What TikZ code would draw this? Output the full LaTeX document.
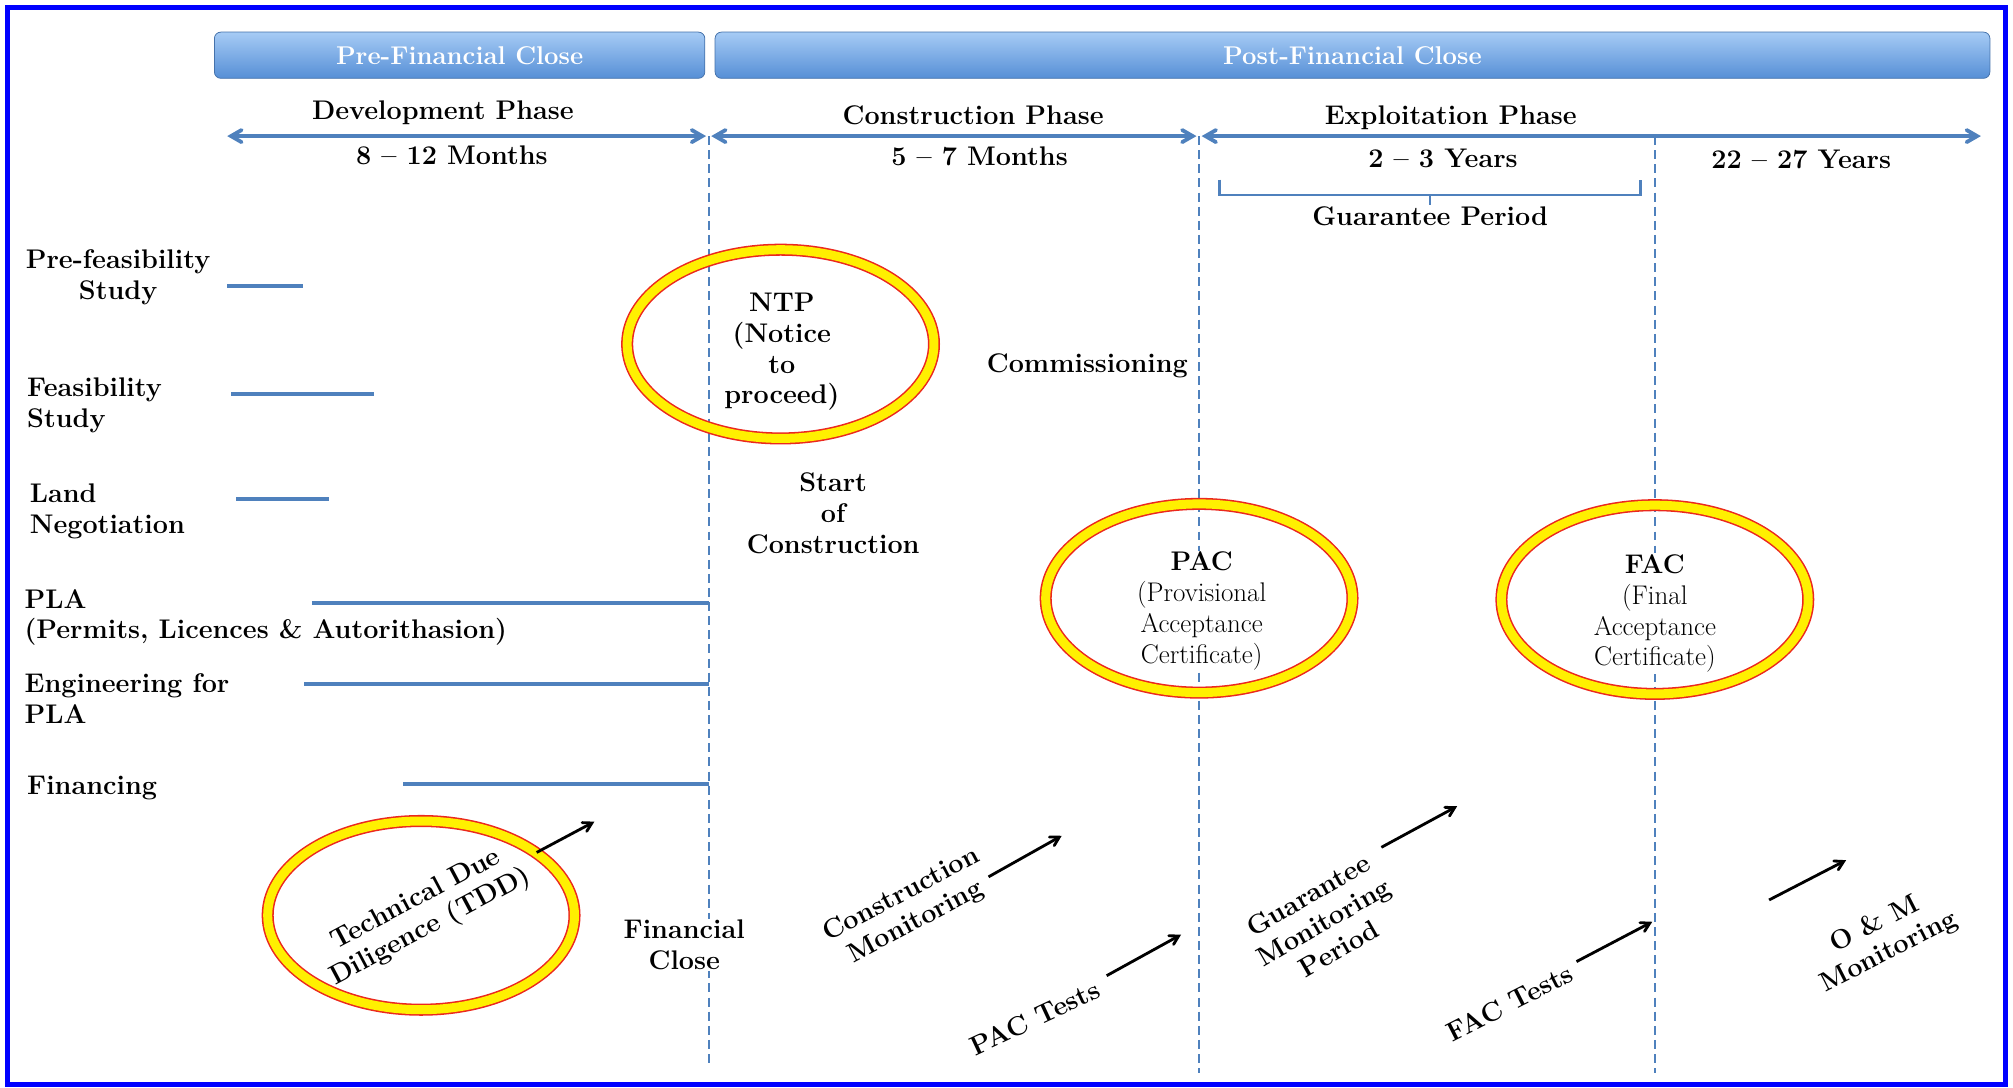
\documentclass[tikz,border=0pt]{standalone}
\usepackage{fontspec}
\usepackage{tikz}
\usetikzlibrary{shapes,arrows,positioning,calc}

\definecolor{steel}{RGB}{79,129,189}
\definecolor{barlight}{RGB}{166,203,245}
\definecolor{bardark}{RGB}{86,143,214}
\definecolor{ringred}{RGB}{235,40,30}
\definecolor{ringyellow}{RGB}{255,240,0}

\newcommand{\bigfont}{\fontsize{21}{24}\selectfont}
\newcommand{\barfont}{\fontsize{20}{24}\selectfont}

\begin{document}
\begin{tikzpicture}[
    x=1pt, y=-1pt,
    every node/.style={font=\bigfont\bfseries, inner sep=1pt},
    header/.style={rectangle, rounded corners=5pt, top color=barlight, bottom color=bardark, draw=bardark!80!black, line width=0.6pt, minimum height=36pt, text=white, font=\barfont\bfseries},
    phase/.style={steel, line width=3pt, angle 60-angle 60, shorten <=2pt, shorten >=2pt},
    divider/.style={steel, line width=1.6pt, dash pattern=on 7pt off 4pt},
    task/.style={steel, line width=3pt},
    ring/.style={ellipse, draw=ringred, double=ringyellow, double distance=7pt, line width=1.2pt, minimum width=239pt, minimum height=147pt, inner sep=0pt},
    ringtext/.style={align=center, fill=white, inner sep=1pt},
    lefttask/.style={anchor=west, align=left},
    note/.style={align=center},
    arrow/.style={-angle 60, line width=2.2pt, black}
]
\useasboundingbox (0,0) rectangle (1568,847);

% Frame
\draw[blue, line width=4pt] (6,6) rectangle (1562,845);

% Headers
\node[header, minimum width=382pt] (prefc) at (358,43) {Pre-Financial Close};
\node[header, minimum width=993pt] (postfc) at (1053.5,43) {Post-Financial Close};

% Phase timeline
\coordinate (t0) at (175,106);
\coordinate (t1) at (552,106);
\coordinate (t2) at (934,106);
\coordinate (t3) at (1289,106);
\coordinate (t4) at (1545,106);
\draw[phase] (t0) -- (t1);
\draw[phase] (t1) -- (t2);
\draw[phase] (t2) -- (t4);

\node (dev) at (345,88) {Development Phase};
\node (devdur) at (352,121) {8 -- 12 Months};
\node (con) at (758,90) {Construction Phase};
\node (condur) at (763,122) {5 -- 7 Months};
\node (exp) at (1130,92) {Exploitation Phase};
\node (expdur) at (1124,123) {2 -- 3 Years};
\node (omdur) at (1403,124) {22 -- 27 Years};

% Guarantee bracket
\draw[steel, line width=2pt] (950,140) -- (950,152) -- (1278,152) -- (1278,140);
\coordinate (gtick) at (1114,152);
\coordinate (gtip) at (1114,160);
\draw[steel, line width=2pt] (gtick) -- (gtip);
\node[below=0pt of gtip] (gp) {Guarantee Period};

% Milestone lines
\coordinate (fcbot) at (552,830);
\coordinate (pacbot) at (934,836);
\coordinate (facbot) at (1289,836);
\draw[divider] (t1) -- (fcbot);
\draw[divider] (t2) -- (pacbot);
\draw[divider] (t3) -- (facbot);

% Development tasks
\node[align=center] (prefeas) at (92,216) {Pre-feasibility\\Study};
\node[lefttask] (feas) at (20,316) {Feasibility\\Study};
\node[lefttask] (land) at (22,398) {Land\\Negotiation};
\node[lefttask] (pla) at (18,481) {PLA\\(Permits, Licences \& Autorithasion)};
\node[lefttask] (eng) at (18,544) {Engineering for\\PLA};
\node[lefttask] (fin) at (20,614) {Financing};

\draw[task] (177,223) -- (236,223);
\draw[task] (180,307) -- (291,307);
\draw[task] (184,389) -- (256,389);
\draw[task] (243,470) -- (552,470);
\draw[task] (237,533) -- (552,533);
\draw[task] (314,611) -- (552,611);

% Milestones
\node[ring] (ntpring) at (608,268) {};
\node[align=center] (ntp) at (609,274) {NTP\\(Notice\\to\\proceed)};
\node[ring] (pacring) at (934,466) {};
\node[ringtext] (pac) at (936,476) {PAC\\{\mdseries (Provisional}\\{\mdseries Acceptance}\\{\mdseries Certificate)}};
\node[ring] (facring) at (1289,467) {};
\node[ringtext] (fac) at (1289,478) {FAC\\{\mdseries (Final}\\{\mdseries Acceptance}\\{\mdseries Certificate)}};
\node[ring] (tddring) at (328,713) {};
\node[note, rotate=28] (tdd) at (330,712) {Technical Due\\Diligence (TDD)};

\node[note] (start) at (649,400) {Start\\of\\Construction};
\node (comm) at (847,285) {Commissioning};
\node[note, fill=white] (fc) at (533,736) {Financial\\Close};

% Monitoring labels
\node[note, rotate=28] (cmon) at (708,708) {Construction\\Monitoring};
\node[rotate=25] (pact) at (806,793) {PAC Tests};
\node[note, rotate=30] (gmon) at (1031,718) {Guarantee\\Monitoring\\Period};
\node[rotate=27] (fact) at (1176,781) {FAC Tests};
\node[note, rotate=27] (om) at (1466,731) {O \& M\\Monitoring};

% Arrows
\coordinate (tddA) at (418,664);   \coordinate (tddB) at (463,640);
\coordinate (cmonA) at (770,683);  \coordinate (cmonB) at (827,651);
\coordinate (pactA) at (862,760);  \coordinate (pactB) at (920,728);
\coordinate (gmonA) at (1076,660); \coordinate (gmonB) at (1135,628);
\coordinate (factA) at (1228,749); \coordinate (factB) at (1287,718);
\coordinate (omA) at (1378,701);   \coordinate (omB) at (1438,670);
\draw[arrow] (tddA) -- (tddB);
\draw[arrow] (cmonA) -- (cmonB);
\draw[arrow] (pactA) -- (pactB);
\draw[arrow] (gmonA) -- (gmonB);
\draw[arrow] (factA) -- (factB);
\draw[arrow] (omA) -- (omB);

\end{tikzpicture}
\end{document}
